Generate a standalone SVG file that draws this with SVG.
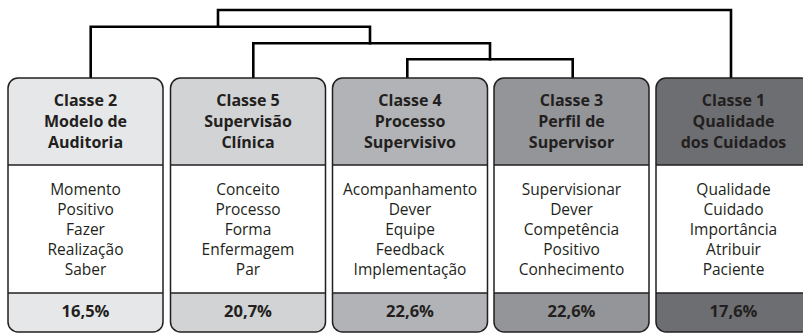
<svg xmlns="http://www.w3.org/2000/svg" width="803" height="335" viewBox="0 0 803 335">
<style>
.hd{font-family:"Open Sans","Noto Sans",sans-serif;font-weight:bold;font-size:16px;fill:#231f20;text-anchor:middle}
.bd{font-family:"Open Sans","Noto Sans",sans-serif;font-size:15.5px;fill:#231f20;text-anchor:middle}
.pc{font-family:"Open Sans","Noto Sans",sans-serif;font-weight:bold;font-size:16.5px;fill:#231f20;text-anchor:middle}
.out{fill:none;stroke:#231f20;stroke-width:1.5}
.sep{stroke:#231f20;stroke-width:1.5}
.con{fill:none;stroke:#000;stroke-width:2.6;stroke-linejoin:miter;stroke-linecap:square}
</style>
<g id="connectors">
<path class="con" d="M90.7 78V26.7H370V43.3"/>
<path class="con" d="M218 26.7V10H731V78"/>
<path class="con" d="M253.3 78V43.3H490V59.3"/>
<path class="con" d="M407.3 78V59.3H572.7V78"/>
</g>
<g id="classe2">
<rect x="8" y="78" width="155" height="254" rx="10" fill="#fff"/>
<path d="M8 165V88a10 10 0 0 1 10-10H153a10 10 0 0 1 10 10V165Z" fill="#e6e7e8"/>
<path d="M8 293V322a10 10 0 0 0 10 10H153a10 10 0 0 0 10-10V293Z" fill="#e6e7e8"/>
<line class="sep" x1="8" y1="165" x2="163" y2="165"/>
<line class="sep" x1="8" y1="293" x2="163" y2="293"/>
<rect class="out" x="8" y="78" width="155" height="254" rx="10"/>
<text class="hd" x="85.5" y="106">Classe 2</text>
<text class="hd" x="85.5" y="127">Modelo de</text>
<text class="hd" x="85.5" y="147.5">Auditoria</text>
<text class="bd" x="85.5" y="195">Momento</text>
<text class="bd" x="85.5" y="215">Positivo</text>
<text class="bd" x="85.5" y="235">Fazer</text>
<text class="bd" x="85.5" y="255">Realização</text>
<text class="bd" x="85.5" y="275">Saber</text>
<text class="pc" x="85.5" y="317">16,5%</text>
</g>
<g id="classe5">
<rect x="170.5" y="78" width="155" height="254" rx="10" fill="#fff"/>
<path d="M170.5 165V88a10 10 0 0 1 10-10H315.5a10 10 0 0 1 10 10V165Z" fill="#d1d3d4"/>
<path d="M170.5 293V322a10 10 0 0 0 10 10H315.5a10 10 0 0 0 10-10V293Z" fill="#d1d3d4"/>
<line class="sep" x1="170.5" y1="165" x2="325.5" y2="165"/>
<line class="sep" x1="170.5" y1="293" x2="325.5" y2="293"/>
<rect class="out" x="170.5" y="78" width="155" height="254" rx="10"/>
<text class="hd" x="248" y="106">Classe 5</text>
<text class="hd" x="248" y="127">Supervisão</text>
<text class="hd" x="248" y="147.5">Clínica</text>
<text class="bd" x="248" y="195">Conceito</text>
<text class="bd" x="248" y="215">Processo</text>
<text class="bd" x="248" y="235">Forma</text>
<text class="bd" x="248" y="255">Enfermagem</text>
<text class="bd" x="248" y="275">Par</text>
<text class="pc" x="248" y="317">20,7%</text>
</g>
<g id="classe4">
<rect x="332.5" y="78" width="155" height="254" rx="10" fill="#fff"/>
<path d="M332.5 165V88a10 10 0 0 1 10-10H477.5a10 10 0 0 1 10 10V165Z" fill="#b1b3b6"/>
<path d="M332.5 293V322a10 10 0 0 0 10 10H477.5a10 10 0 0 0 10-10V293Z" fill="#b1b3b6"/>
<line class="sep" x1="332.5" y1="165" x2="487.5" y2="165"/>
<line class="sep" x1="332.5" y1="293" x2="487.5" y2="293"/>
<rect class="out" x="332.5" y="78" width="155" height="254" rx="10"/>
<text class="hd" x="410" y="106">Classe 4</text>
<text class="hd" x="410" y="127">Processo</text>
<text class="hd" x="410" y="147.5">Supervisivo</text>
<text class="bd" x="410" y="195">Acompanhamento</text>
<text class="bd" x="410" y="215">Dever</text>
<text class="bd" x="410" y="235">Equipe</text>
<text class="bd" x="410" y="255">Feedback</text>
<text class="bd" x="410" y="275">Implementação</text>
<text class="pc" x="410" y="317">22,6%</text>
</g>
<g id="classe3">
<rect x="494" y="78" width="155" height="254" rx="10" fill="#fff"/>
<path d="M494 165V88a10 10 0 0 1 10-10H639a10 10 0 0 1 10 10V165Z" fill="#939598"/>
<path d="M494 293V322a10 10 0 0 0 10 10H639a10 10 0 0 0 10-10V293Z" fill="#939598"/>
<line class="sep" x1="494" y1="165" x2="649" y2="165"/>
<line class="sep" x1="494" y1="293" x2="649" y2="293"/>
<rect class="out" x="494" y="78" width="155" height="254" rx="10"/>
<text class="hd" x="571.5" y="106">Classe 3</text>
<text class="hd" x="571.5" y="127">Perfil de</text>
<text class="hd" x="571.5" y="147.5">Supervisor</text>
<text class="bd" x="571.5" y="195">Supervisionar</text>
<text class="bd" x="571.5" y="215">Dever</text>
<text class="bd" x="571.5" y="235">Competência</text>
<text class="bd" x="571.5" y="255">Positivo</text>
<text class="bd" x="571.5" y="275">Conhecimento</text>
<text class="pc" x="571.5" y="317">22,6%</text>
</g>
<g id="classe1">
<rect x="656" y="78" width="155" height="254" rx="10" fill="#fff"/>
<path d="M656 165V88a10 10 0 0 1 10-10H801a10 10 0 0 1 10 10V165Z" fill="#6d6e71"/>
<path d="M656 293V322a10 10 0 0 0 10 10H801a10 10 0 0 0 10-10V293Z" fill="#6d6e71"/>
<line class="sep" x1="656" y1="165" x2="811" y2="165"/>
<line class="sep" x1="656" y1="293" x2="811" y2="293"/>
<rect class="out" x="656" y="78" width="155" height="254" rx="10"/>
<text class="hd" x="733.5" y="106">Classe 1</text>
<text class="hd" x="733.5" y="127">Qualidade</text>
<text class="hd" x="733.5" y="147.5">dos Cuidados</text>
<text class="bd" x="733.5" y="195">Qualidade</text>
<text class="bd" x="733.5" y="215">Cuidado</text>
<text class="bd" x="733.5" y="235">Importância</text>
<text class="bd" x="733.5" y="255">Atribuir</text>
<text class="bd" x="733.5" y="275">Paciente</text>
<text class="pc" x="733.5" y="317">17,6%</text>
</g>
</svg>
